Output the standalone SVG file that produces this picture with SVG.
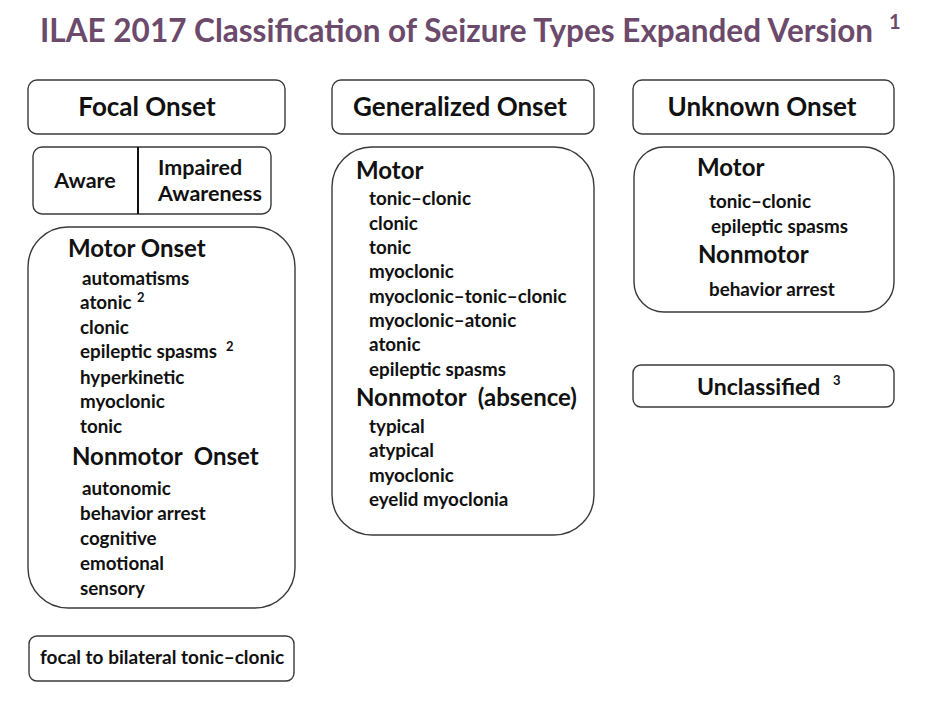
<svg xmlns="http://www.w3.org/2000/svg" width="938" height="702" viewBox="0 0 938 702">
<style>
.box{fill:#fff;stroke:#3a3a3a;stroke-width:1.4}
text{font-family:Lato,"Open Sans","Liberation Sans",sans-serif;font-weight:bold;fill:#111}
.title{font-size:31.5px;fill:#6b4a6b}
.hdr{font-size:26px;text-anchor:middle}
.sub{font-size:24px}
.it{font-size:18.8px}
.sup{font-size:13px}
</style>
<rect width="938" height="702" fill="#fff"/>
<text class="title" x="40" y="42">ILAE 2017 Classification of Seizure Types Expanded Version</text>
<text class="title" x="889" y="29" style="font-size:20px">1</text>

<g id="focal-onset">
<rect class="box" x="28" y="80" width="257" height="54" rx="9"/>
<text class="hdr" x="147" y="116">Focal Onset</text>
</g>
<g id="awareness">
<rect class="box" x="33" y="147" width="238" height="67" rx="9"/>
<line x1="138" y1="147" x2="138" y2="214" stroke="#111" stroke-width="2"/>
<text class="it" x="85" y="188" text-anchor="middle" style="font-size:21.5px">Aware</text>
<text class="it" x="158" y="175" style="font-size:21.5px">Impaired</text>
<text class="it" x="158" y="201" style="font-size:21.5px">Awareness</text>
</g>
<g id="focal-types">
<rect class="box" x="28" y="227" width="267" height="381" rx="40"/>
<text class="sub" x="68" y="257">Motor Onset</text>
<text class="it" x="82" y="285">automatisms</text>
<text class="it" x="80" y="309">atonic</text>
<text class="sup" x="137" y="302">2</text>
<text class="it" x="80" y="334">clonic</text>
<text class="it" x="80" y="358">epileptic spasms</text>
<text class="sup" x="226" y="351">2</text>
<text class="it" x="80" y="384">hyperkinetic</text>
<text class="it" x="80" y="408">myoclonic</text>
<text class="it" x="80" y="433">tonic</text>
<text class="sub" x="72" y="465" xml:space="preserve">Nonmotor  Onset</text>
<text class="it" x="82" y="495">autonomic</text>
<text class="it" x="80" y="520">behavior arrest</text>
<text class="it" x="80" y="545">cognitive</text>
<text class="it" x="80" y="570">emotional</text>
<text class="it" x="80" y="595">sensory</text>
</g>
<g id="focal-bilateral">
<rect class="box" x="29" y="636" width="265" height="45" rx="8"/>
<text class="it" x="40" y="664" style="font-size:19px">focal to bilateral tonic–clonic</text>
</g>

<g id="generalized-onset">
<rect class="box" x="332" y="80" width="262" height="54" rx="9"/>
<text class="hdr" x="460" y="116">Generalized Onset</text>
</g>
<g id="generalized-types">
<rect class="box" x="332" y="147" width="262" height="388" rx="40"/>
<text class="sub" x="356" y="179">Motor</text>
<text class="it" x="369" y="205">tonic–clonic</text>
<text class="it" x="369" y="230">clonic</text>
<text class="it" x="369" y="254">tonic</text>
<text class="it" x="369" y="278">myoclonic</text>
<text class="it" x="369" y="303">myoclonic–tonic–clonic</text>
<text class="it" x="369" y="327">myoclonic–atonic</text>
<text class="it" x="369" y="351">atonic</text>
<text class="it" x="369" y="376">epileptic spasms</text>
<text class="sub" x="356" y="406" xml:space="preserve">Nonmotor  (absence)</text>
<text class="it" x="369" y="433">typical</text>
<text class="it" x="369" y="457">atypical</text>
<text class="it" x="369" y="482">myoclonic</text>
<text class="it" x="369" y="506">eyelid myoclonia</text>
</g>

<g id="unknown-onset">
<rect class="box" x="633" y="80" width="261" height="54" rx="9"/>
<text class="hdr" x="762" y="116">Unknown Onset</text>
</g>
<g id="unknown-types">
<rect class="box" x="634" y="147" width="260" height="165" rx="30"/>
<text class="sub" x="697" y="176">Motor</text>
<text class="it" x="709" y="208">tonic–clonic</text>
<text class="it" x="711" y="233">epileptic spasms</text>
<text class="sub" x="698" y="263">Nonmotor</text>
<text class="it" x="709" y="296">behavior arrest</text>
</g>
<g id="unclassified">
<rect class="box" x="633" y="365" width="261" height="42" rx="8"/>
<text class="sub" x="697" y="395" style="font-size:23px">Unclassified</text>
<text class="sup" x="833" y="385">3</text>
</g>
<g id="connectors"/>
</svg>
